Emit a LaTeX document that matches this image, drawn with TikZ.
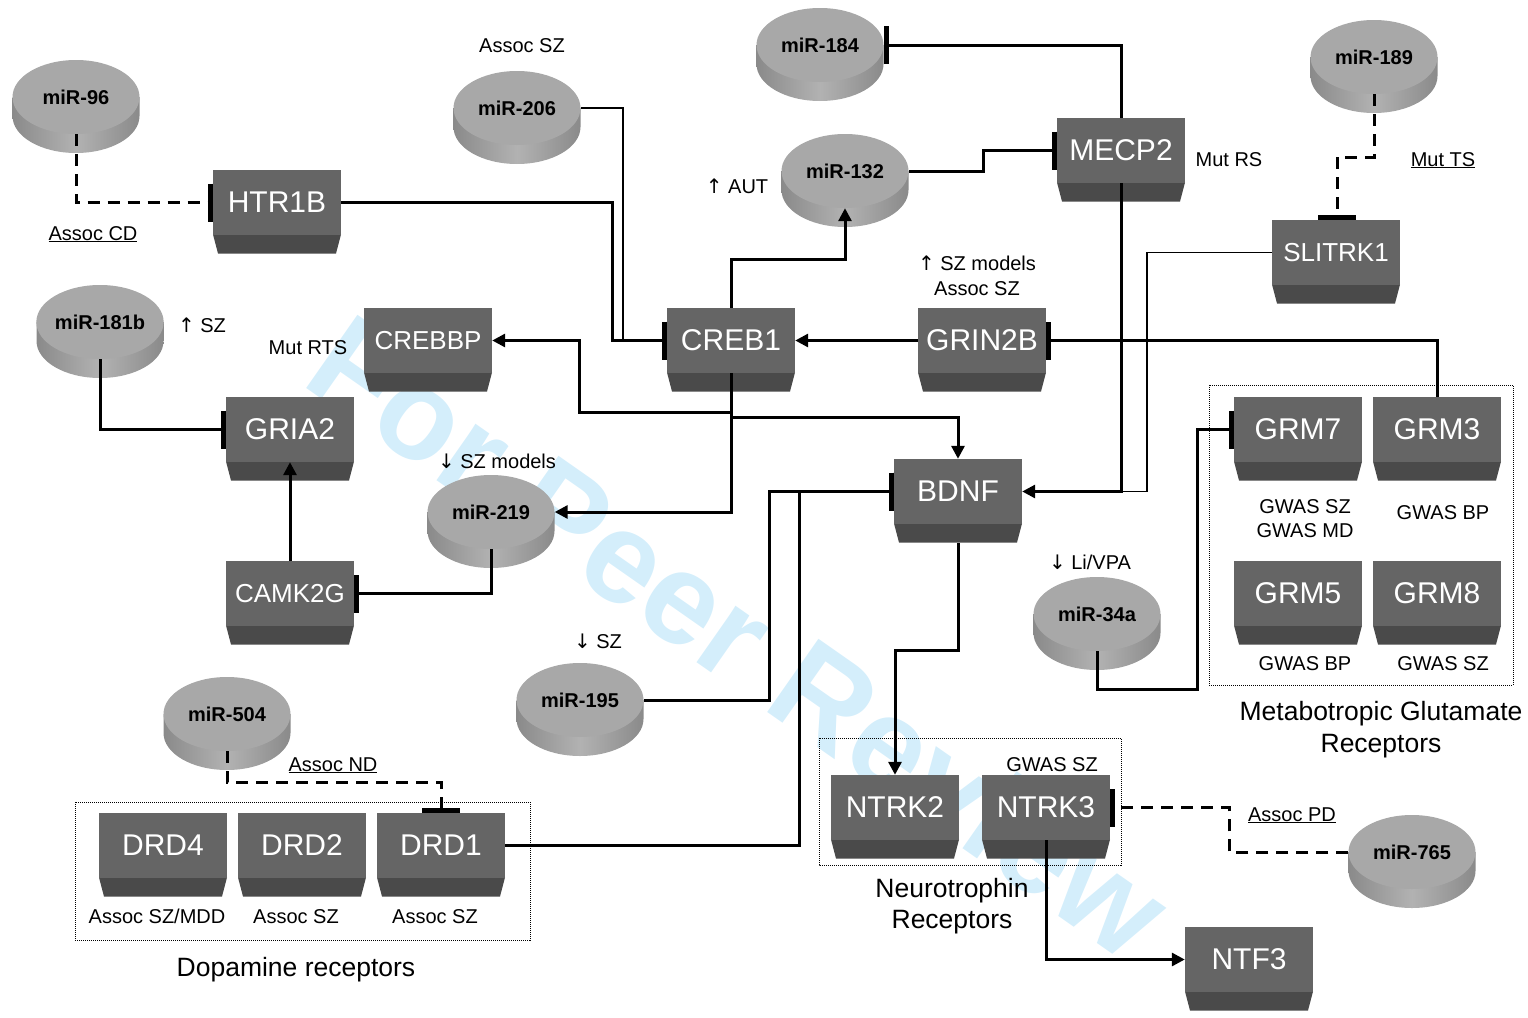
\documentclass[tikz,border=0pt]{standalone}
\usepackage{fontspec}
\setmainfont{Liberation Sans}
\newfontfamily\arrowfont{DejaVu Sans}
\usetikzlibrary{arrows.meta,shapes.geometric}
\definecolor{boxtop}{RGB}{101,101,101}
\definecolor{boxbot}{RGB}{74,74,74}
\definecolor{disctop}{RGB}{168,168,168}
\definecolor{discedge}{RGB}{138,138,138}
\definecolor{discmid}{RGB}{178,178,178}
\definecolor{wmblue}{RGB}{212,238,251}
\newcommand\gbox[5]{%
  \fill[boxbot] (#3-64,#4+32) -- (#3+64,#4+32) -- (#3+59,#4+51) -- (#3-59,#4+51) -- cycle;
  \node[#1] (#2) at (#3,#4) {#5};}
\newcommand\mirna[4]{%
  \shade[left color=discedge,right color=discedge,middle color=discmid]
    (#2-63.5,#3) -- (#2-63.5,#3+19) arc[start angle=180,end angle=360,x radius=63.5pt,y radius=37pt] -- (#2+63.5,#3) -- cycle;
  \node[disc] (#1) at (#2,#3) {#4};}
\tikzset{
  genebox/.style={rectangle, fill=boxtop, minimum width=128pt, minimum height=65pt, inner sep=0pt, text=white, font=\fontsize{30}{36}\selectfont},
  geneboxs/.style={genebox, font=\fontsize{26}{31}\selectfont},
  disc/.style={ellipse, fill=disctop, minimum width=127pt, minimum height=74pt, inner sep=0pt, font=\bfseries\fontsize{20}{24}\selectfont},
  conn/.style={line width=3pt, black},
  thinconn/.style={line width=1.5pt, black},
  dconn/.style={line width=3pt, black, dash pattern=on 12pt off 8pt},
  act/.style={-{Triangle[length=13pt,width=13pt]}},
  inh/.style={-{Bar[width=38pt,line width=5pt]}},
  lbl/.style={anchor=base, inner sep=0pt, font=\fontsize{20}{24}\selectfont},
  glbl/.style={anchor=base, inner sep=0pt, font=\fontsize{26.5}{32}\selectfont},
  grp/.style={line width=1pt, dash pattern=on 1pt off 1pt}
}
\begin{document}
\begin{tikzpicture}[x=1pt,y=-1pt]
\useasboundingbox (0,0) rectangle (1528,1017);
% watermark
\node[rotate=-35, text=wmblue, inner sep=0pt, font=\bfseries\fontsize{130}{156}\selectfont] (wm) at (740,636) {For Peer Review};
% group frames
\draw[grp] (75,802) rectangle (530,940);
\draw[grp] (1209,385) rectangle (1513,685);
\draw[grp] (819,738) rectangle (1121,865);
% gene boxes
\gbox{genebox}{HTR1B}{277}{202.5}{HTR1B}
\gbox{geneboxs}{CREBBP}{428}{340.5}{CREBBP}
\gbox{genebox}{GRIA2}{290}{429.5}{GRIA2}
\gbox{geneboxs}{CAMK2G}{290}{593.5}{CAMK2G}
\gbox{genebox}{CREB1}{731}{340.5}{CREB1}
\gbox{genebox}{GRIN2B}{982}{340.5}{GRIN2B}
\gbox{genebox}{MECP2}{1121}{150.5}{MECP2}
\gbox{geneboxs}{SLITRK1}{1336}{252.5}{SLITRK1}
\gbox{genebox}{BDNF}{958}{491.5}{BDNF}
\gbox{genebox}{GRM7}{1298}{429.5}{GRM7}
\gbox{genebox}{GRM3}{1437}{429.5}{GRM3}
\gbox{genebox}{GRM5}{1298}{593.5}{GRM5}
\gbox{genebox}{GRM8}{1437}{593.5}{GRM8}
\gbox{genebox}{DRD4}{163}{845.5}{DRD4}
\gbox{genebox}{DRD2}{302}{845.5}{DRD2}
\gbox{genebox}{DRD1}{441}{845.5}{DRD1}
\gbox{genebox}{NTRK2}{895}{807.5}{NTRK2}
\gbox{genebox}{NTRK3}{1046}{807.5}{NTRK3}
\gbox{genebox}{NTF3}{1249}{959.5}{NTF3}
% miRNA discs
\mirna{m96}{76}{97}{miR-96}
\mirna{m206}{517}{108}{miR-206}
\mirna{m184}{820}{45}{miR-184}
\mirna{m132}{845}{171}{miR-132}
\mirna{m189}{1374}{57}{miR-189}
\mirna{m181b}{100}{322}{miR-181b}
\mirna{m219}{491}{512}{miR-219}
\mirna{m195}{580}{700}{miR-195}
\mirna{m504}{227}{714}{miR-504}
\mirna{m34a}{1097}{614}{miR-34a}
\mirna{m765}{1412}{852}{miR-765}
% connectors
\draw[dconn, inh] (m96.south) |- (HTR1B.west);
\draw[thinconn] (m206.east) -- (623,108) |- (CREB1.west);
\draw[conn, inh] (HTR1B.east) -- (612,202.5) |- (CREB1.west);
\draw[conn, act] (CREB1.north) |- (845,259) -- (m132.south);
\draw[conn, inh] (m132.east) -- (983,171) |- (MECP2.west);
\draw[conn, inh] (MECP2.north) |- (m184.east);
\draw[thinconn] (SLITRK1.west) -| (1147,491.5) -- (1121,491.5);
\draw[conn, act] (MECP2.south) |- (BDNF.east);
\draw[dconn, inh] (m189.south) |- (1337,157) -- (1337,220);
\draw[conn, act] (GRIN2B.west) -- (CREB1.east);
\draw[conn, inh] (GRM3.north) |- (GRIN2B.east);
\draw[conn, act] (CREB1.south) |- (579,412) |- (CREBBP.east);
\draw[conn, act] (CREB1.south) |- (958,417) -- (BDNF.north);
\draw[conn, act] (CREB1.south) |- (m219.east);
\draw[conn, inh] (m219.south) |- (CAMK2G.east);
\draw[conn, act] (CAMK2G.north) -- (GRIA2.south);
\draw[conn, inh] (m181b.south) |- (GRIA2.west);
\draw[conn, inh] (m195.east) -- (769,700) |- (BDNF.west);
\draw[conn, inh] (DRD1.east) -- (799,845.5) |- (BDNF.west);
\draw[conn, act] (BDNF.south) ++(0,19) -- (958,650) -| (NTRK2.north);
\draw[conn, act] (NTRK3.south) |- (NTF3.west);
\draw[dconn, inh] (m765.west) -- (1229,852) |- (NTRK3.east);
\draw[dconn, inh] (m504.south) |- (441,782) -- (DRD1.north);
\draw[conn, inh] (m34a.south) |- (1197,689) |- (GRM7.west);
% labels
\node[lbl] (t1) at (522,52) {Assoc SZ};
\node[lbl] (t2) at (93,240) {\underline{Assoc CD}};
\node[lbl] (t3) at (202,332) {{\arrowfont ↑} SZ};
\node[lbl] (t4) at (308,354) {Mut RTS};
\node[lbl] (t5) at (737,193) {{\arrowfont ↑} AUT};
\node[lbl] (t6) at (977,270) {{\arrowfont ↑} SZ models};
\node[lbl] (t7) at (977,295) {Assoc SZ};
\node[lbl] (t8) at (1229,166) {Mut RS};
\node[lbl] (t9) at (1443,166) {\underline{Mut TS}};
\node[lbl] (t10) at (497,468) {{\arrowfont ↓} SZ models};
\node[lbl] (t11) at (598,648) {{\arrowfont ↓} SZ};
\node[lbl] (t12) at (1090,569) {{\arrowfont ↓} Li/VPA};
\node[lbl] (t13) at (1305,513) {GWAS SZ};
\node[lbl] (t14) at (1305,537) {GWAS MD};
\node[lbl] (t15) at (1443,519) {GWAS BP};
\node[lbl] (t16) at (1305,670) {GWAS BP};
\node[lbl] (t17) at (1443,670) {GWAS SZ};
\node[glbl] (t18) at (1381,720) {Metabotropic Glutamate};
\node[glbl] (t19) at (1381,752) {Receptors};
\node[lbl] (t20) at (333,771) {\underline{Assoc ND}};
\node[lbl] (t21) at (157,923) {Assoc SZ/MDD};
\node[lbl] (t22) at (296,923) {Assoc SZ};
\node[lbl] (t23) at (435,923) {Assoc SZ};
\node[glbl] (t24) at (296,976) {Dopamine receptors};
\node[lbl] (t25) at (1052,771) {GWAS SZ};
\node[lbl] (t26) at (1292,821) {\underline{Assoc PD}};
\node[glbl] (t27) at (952,897) {Neurotrophin};
\node[glbl] (t28) at (952,928) {Receptors};
\end{tikzpicture}
\end{document}
